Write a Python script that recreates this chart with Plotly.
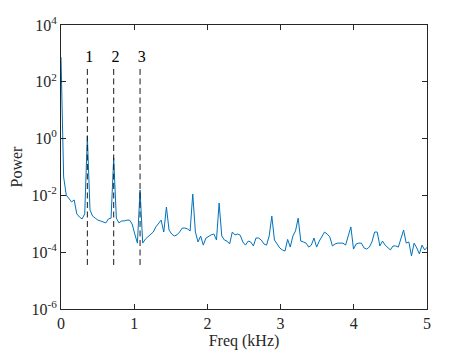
import numpy as np
import plotly.graph_objects as go

# FFT bin grid (kHz)
freq_step = 0.036
freq = np.arange(140) * freq_step

# log10(power), one per bin
log_power = [
    2.87, -1.35, -1.99, -2.13, -2.23, -2.16, -2.65, -2.76, -2.83, -2.65,
    0.09, -2.51, -2.73, -2.80, -2.87, -2.90, -2.94, -2.97, -2.83, -2.80,
    -0.68, -2.80, -2.97, -2.90, -2.90, -2.87, -2.87, -3.01, -3.36, -3.68,
    -1.81, -3.68, -3.54, -3.46, -3.39, -3.29, -3.11, -2.97, -2.87, -3.29,
    -2.41, -3.22, -3.36, -3.43, -3.39, -3.29, -3.15, -3.15, -3.18, -3.25,
    -1.95, -3.29, -3.64, -3.43, -3.75, -3.50, -3.43, -3.39, -3.36, -3.57,
    -2.27, -3.43, -3.57, -3.61, -3.71, -3.29, -3.39, -3.36, -3.40, -3.64,
    -3.75, -3.61, -3.64, -3.78, -3.50, -3.50, -3.57, -3.71, -3.75, -3.43,
    -2.73, -3.57, -3.71, -3.85, -3.92, -3.96, -3.55, -3.82, -3.43, -3.25,
    -2.80, -3.61, -3.64, -3.68, -3.82, -3.75, -3.50, -3.82, -3.61, -3.43,
    -3.29, -3.36, -3.46, -3.78, -3.71, -3.68, -3.68, -3.68, -3.75, -3.43,
    -3.11, -3.89, -3.71, -3.68, -3.68, -3.85, -3.89, -3.82, -3.64, -3.29,
    -3.29, -3.78, -3.61, -3.75, -3.82, -3.92, -3.78, -3.78, -3.82, -3.50,
    -3.22, -3.68, -3.64, -4.13, -3.68, -3.85, -4.06, -3.75, -3.92, -3.82,
]
power = [10 ** v for v in log_power]

# harmonic markers
marker_freq = [0.36, 0.72, 1.08]
marker_labels = ["1", "2", "3"]
marker_bottom = 10 ** -4.45
marker_top = 10 ** 2.55
label_y = 10 ** 2.85

tick_vals = [1e-6, 1e-4, 1e-2, 1e0, 1e2, 1e4]
tick_text = ["10<sup>-6</sup>", "10<sup>-4</sup>", "10<sup>-2</sup>",
             "10<sup>0</sup>", "10<sup>2</sup>", "10<sup>4</sup>"]

serif = "Liberation Serif, Times New Roman, serif"

fig = go.Figure()

fig.add_trace(go.Scatter(
    x=freq, y=power, mode="lines",
    line=dict(color="#0072BD", width=1),
    showlegend=False, hoverinfo="skip",
))

for f in marker_freq:
    fig.add_trace(go.Scatter(
        x=[f, f], y=[marker_bottom, marker_top], mode="lines",
        line=dict(color="#1a1a1a", width=1, dash="6px,3.5px"),
        showlegend=False, hoverinfo="skip",
    ))

# labels sit just right of each dashed line
fig.add_trace(go.Scatter(
    x=[f - 0.03 for f in marker_freq], y=[label_y] * len(marker_freq),
    mode="text", text=marker_labels, textposition="middle right",
    textfont=dict(family=serif, size=16, color="black"),
    showlegend=False, hoverinfo="skip",
))

axis_style = dict(
    showline=True, linecolor="#262626", linewidth=1, mirror="ticks",
    ticks="inside", ticklen=5, tickcolor="#262626", showgrid=False,
    zeroline=False, automargin=False,
    tickfont=dict(family=serif, size=16, color="#262626"),
)

# page body adds an 8px offset, so the figure is 8px smaller
fig.update_layout(
    width=463, height=346,
    margin=dict(l=53, r=44, t=17, b=45),
    paper_bgcolor="white", plot_bgcolor="white",
    font=dict(family=serif, color="#262626"),
    xaxis=dict(
        range=[0, 5], tickvals=[0, 1, 2, 3, 4, 5],
        title=dict(text="Freq (kHz)", font=dict(size=16), standoff=2),
        **axis_style,
    ),
    yaxis=dict(
        type="log", range=[-6, 4], tickvals=tick_vals, ticktext=tick_text,
        title=dict(text="Power", font=dict(size=16), standoff=4),
        **axis_style,
    ),
)

fig.write_html("out.html")
